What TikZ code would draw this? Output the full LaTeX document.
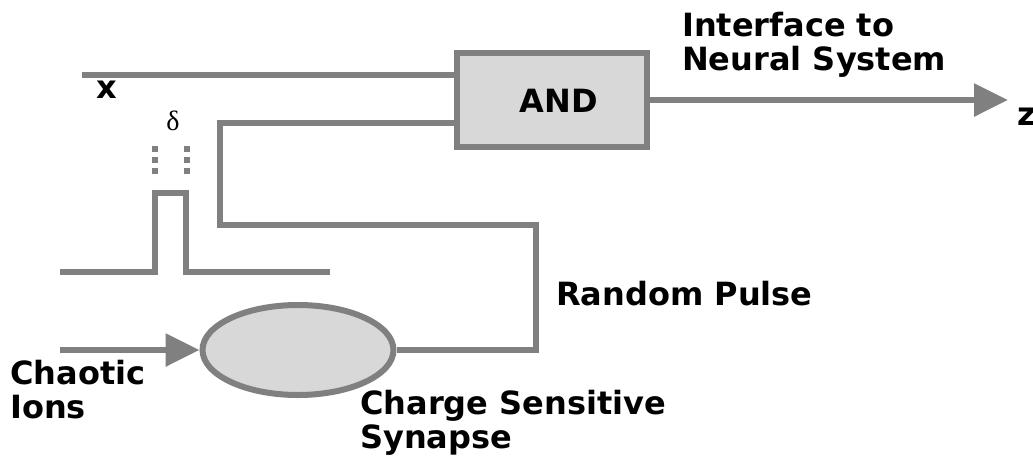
\documentclass[tikz,border=0pt]{standalone}
\usepackage{fontspec}
\setmainfont{DejaVu Sans}
\newfontfamily\greekserif{Liberation Serif}
\usetikzlibrary{arrows.meta,shapes.geometric,positioning}

\definecolor{wiregray}{HTML}{808080}
\definecolor{boxgray}{HTML}{D8D8D8}

\begin{document}
\begin{tikzpicture}[x=1pt,y=-1pt]

\tikzset{wire/.style={draw=wiregray, line width=6pt},
arrowwire/.style={wire, -{Triangle[length=34pt,width=32pt]}},
label/.style={font=\fontsize{32}{34}\selectfont\bfseries, align=left, inner sep=0pt, anchor=base west}}

\useasboundingbox (0,0) rectangle (1033,459);

% gate and synapse
\node[draw=wiregray, line width=6pt, fill=boxgray, minimum width=190pt, minimum height=94pt, inner sep=0pt] (andbox) at (552,100) {};
\node[ellipse, draw=wiregray, line width=6pt, fill=boxgray, minimum width=191pt, minimum height=90pt, inner sep=0pt] (synapse) at (298,350) {};

\coordinate (xin) at (82,75);
\coordinate (zout) at (1008,100);
\coordinate (ionsin) at (60,350);
\coordinate (bendtop) at (220,123);
\coordinate (bendright) at (536,225);

\draw[wire] (xin) -- (andbox.west |- xin);
\draw[arrowwire] (andbox.east) -- (zout);
\draw[arrowwire] (ionsin) -- (synapse.west);
\draw[wire] (synapse.east) -| (bendright) -| (bendtop) -- (andbox.west |- bendtop);

% pulse
\draw[wire] (60,272) -- (155,272) -- (155,193) -- (186,193) -- (186,272) -- (330,272);
\foreach \x in {155,187}
\foreach \y in {149,160,171}
\fill[wiregray] (\x-2.7,\y-2.7) rectangle (\x+2.7,\y+2.7);

\node[font=\fontsize{28}{30}\greekserif, inner sep=0pt, anchor=base] (delta) at (173,130) {δ};
\node[label, anchor=base] (andlab) at (559,112) {AND};
\node[label] (xlab) at (96,98) {x};
\node[label] (zlab) at (1017,125) {z};
% multi-line labels sit on the baseline of their last line
\node[label] (neural) at (682,70) {Interface to\\Neural System};
\node[label] (pulse) at (556,305) {Random Pulse};
\node[label] (ions) at (10,418) {Chaotic\\Ions};
\node[label] (synlab) at (360,448) {Charge Sensitive\\Synapse};

\end{tikzpicture}
\end{document}
